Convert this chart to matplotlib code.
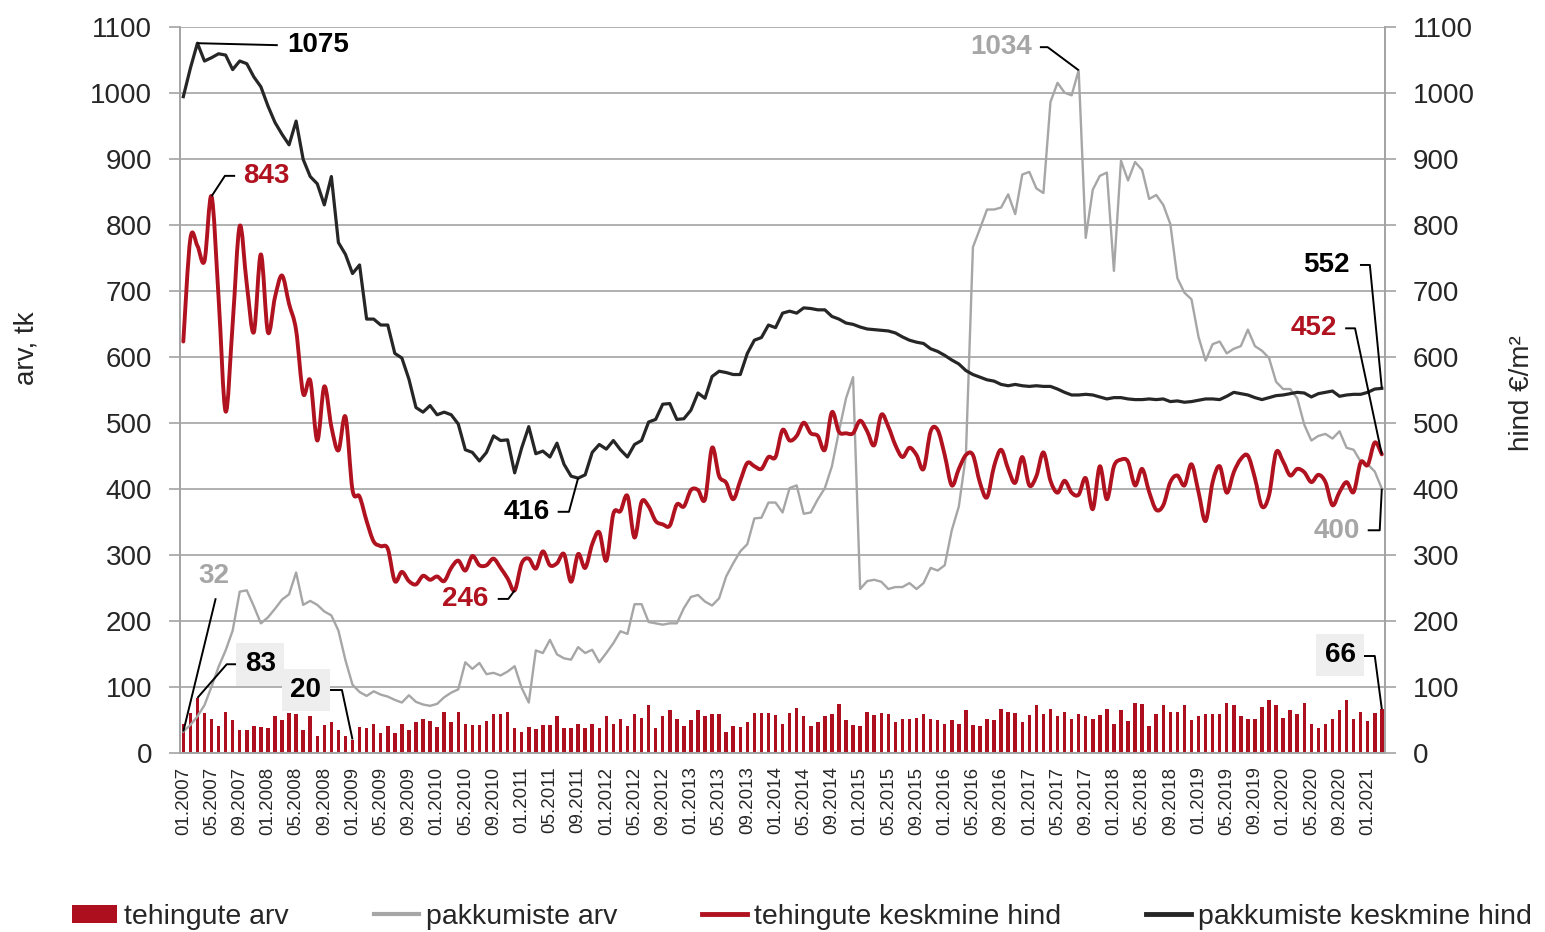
import matplotlib
matplotlib.use("Agg")
import matplotlib.pyplot as plt
from matplotlib.path import Path
from matplotlib.patches import PathPatch, Patch
from matplotlib.lines import Line2D
from matplotlib import font_manager
import numpy as np

# ---------------- data (monthly, 01.2007 ... 03.2021) ----------------
deals_count = [
    44, 60, 83, 60, 51, 40, 61, 50, 34, 35, 40, 39, 37, 55, 50, 60, 59, 35, 56, 26,
    42, 46, 34, 26, 20, 39, 37, 43, 30, 40, 30, 43, 35, 46,
    51, 48, 39, 62, 46, 62, 44, 42, 42, 48, 59, 59, 62, 37, 31, 39, 36, 42, 42, 55,
    37, 37, 44, 37, 44, 37, 55, 43, 51, 41, 59, 53, 73, 37,
    55, 64, 51, 41, 50, 64, 55, 59, 59, 32, 41, 39, 46, 60, 60, 60, 57, 44, 60, 67,
    56, 41, 46, 55, 59, 74, 50, 42, 41, 61, 57, 60, 59, 46,
    51, 51, 53, 59, 51, 50, 44, 49, 43, 64, 42, 41, 51, 49, 66, 61, 60, 46, 57, 73,
    59, 66, 55, 61, 51, 59, 55, 51, 57, 66, 43, 64, 48, 75,
    74, 41, 59, 73, 62, 62, 73, 50, 55, 59, 59, 59, 75, 73, 55, 51, 51, 69, 80, 73,
    53, 64, 59, 75, 44, 37, 44, 51, 64, 80, 51, 62, 48, 60, 66,
]

offers_count = [
    32, 42, 55, 72, 100, 130, 155, 185, 244, 246, 222, 196, 205, 218, 232, 240, 273, 224, 230, 224,
    214, 208, 185, 140, 103, 92, 86, 93, 88, 85, 80, 76, 87, 77,
    73, 71, 74, 84, 91, 96, 137, 127, 136, 119, 121, 117, 123, 131, 98, 76, 155, 151, 171, 149,
    143, 141, 160, 151, 156, 137, 151, 166, 184, 180, 225, 225, 198, 196,
    194, 196, 196, 219, 236, 239, 229, 223, 234, 267, 287, 305, 316, 355, 356, 379, 379, 364, 401, 405,
    362, 364, 384, 401, 434, 487, 537, 569, 248, 260, 262, 259, 248, 251,
    251, 257, 248, 257, 280, 276, 284, 337, 373, 450, 766, 794, 823, 823, 826, 846, 816, 876, 880, 855,
    848, 986, 1015, 1000, 996, 1034, 780, 853, 874, 879, 730, 897, 867, 895,
    883, 839, 845, 830, 801, 719, 697, 687, 630, 594, 619, 623, 605, 612, 616, 641, 616, 609, 598, 562,
    551, 551, 537, 497, 473, 480, 483, 476, 487, 462, 459, 441, 437, 426, 400,
]

deal_price = [
    623, 779, 768, 745, 843, 690, 517, 650, 798, 710, 637, 755, 637, 690, 723, 680, 640, 544, 564, 473,
    555, 494, 458, 509, 398, 388, 351, 320, 313, 309, 260, 274, 260, 255, 268,
    262, 267, 260, 280, 291, 276, 298, 284, 284, 294, 280, 264, 246, 287, 294, 279, 305, 284, 287, 301,
    259, 301, 280, 316, 334, 291, 362, 366, 389, 326, 380, 373, 351,
    346, 344, 376, 373, 398, 398, 384, 462, 419, 409, 384, 412, 439, 434, 430, 448, 448, 489, 473, 480,
    500, 484, 480, 459, 516, 486, 484, 484, 503, 487, 466, 512, 494, 466,
    448, 462, 451, 430, 487, 489, 451, 405, 430, 451, 451, 409, 387, 434, 459, 430, 409, 448, 405, 419,
    455, 412, 394, 412, 394, 391, 416, 369, 434, 384, 434, 444, 441, 405,
    430, 395, 368, 375, 410, 420, 405, 437, 395, 351, 410, 434, 394, 425, 445, 450, 416, 373, 390, 455,
    441, 420, 430, 425, 410, 421, 410, 375, 395, 410, 395, 440, 436, 470, 452,
]

offer_price = [
    994, 1037, 1075, 1048, 1053, 1059, 1057, 1035, 1048, 1044, 1024, 1009, 980, 955, 937, 921, 957, 899, 873, 862,
    830, 873, 773, 755, 726, 739, 657, 657, 648, 648, 605, 598, 566, 523, 516,
    526, 512, 516, 512, 498, 459, 455, 442, 455, 480, 473, 474, 424, 462, 494, 453, 457, 448, 469, 437,
    419, 416, 421, 455, 467, 460, 473, 459, 448, 467, 473, 501, 505,
    528, 529, 505, 506, 519, 545, 537, 570, 578, 576, 573, 573, 605, 625, 629, 648, 644, 666, 669, 666,
    674, 673, 671, 671, 661, 657, 651, 649, 645, 642, 641, 640, 639, 636,
    630, 625, 622, 620, 612, 608, 602, 595, 589, 579, 573, 569, 565, 563, 558, 556, 558, 556, 555, 556,
    555, 555, 551, 546, 542, 542, 543, 542, 539, 536, 538, 538, 536, 535,
    535, 536, 535, 536, 532, 533, 531, 532, 534, 536, 536, 535, 540, 546, 544, 542, 538, 535, 538, 541,
    542, 544, 546, 545, 539, 544, 546, 548, 540, 542, 543, 543, 546, 551, 552,
]

tick_labels = [
    "01.2007", "05.2007", "09.2007", "01.2008", "05.2008", "09.2008", "01.2009", "05.2009", "09.2009",
    "01.2010", "05.2010", "09.2010", "01.2011", "05.2011", "09.2011", "01.2012", "05.2012", "09.2012",
    "01.2013", "05.2013", "09.2013", "01.2014", "05.2014", "09.2014", "01.2015", "05.2015", "09.2015",
    "01.2016", "05.2016", "09.2016", "01.2017", "05.2017", "09.2017", "01.2018", "05.2018", "09.2018",
    "01.2019", "05.2019", "09.2019", "01.2020", "05.2020", "09.2020", "01.2021",
]

legend_labels = ["tehingute arv", "pakkumiste arv", "tehingute keskmine hind", "pakkumiste keskmine hind"]

# ---------------- styling ----------------
RED = "#B0121F"
BAR_RED = "#AE0F1E"
GRAY = "#A6A6A6"
BLACK = "#262626"
GRID = "#A3A3A3"
TXT = "#262626"

available = {f.name for f in font_manager.fontManager.ttflist}
BASE = "Liberation Sans" if "Liberation Sans" in available else "DejaVu Sans"
NARROW = "Liberation Sans Narrow" if "Liberation Sans Narrow" in available else None
plt.rcParams["font.family"] = [BASE, "DejaVu Sans"]

n = len(deal_price)
idx = np.arange(n)

fig = plt.figure(figsize=(15.45, 9.32), dpi=100)
ax = fig.add_axes([180 / 1545, 1 - 752.7 / 932, 1205 / 1545, 726 / 932])
ax2 = ax.twinx()

for a in (ax, ax2):
    a.set_ylim(0, 1100)
    a.set_xlim(-0.47, n - 1 + 0.45)
    a.set_yticks(np.arange(0, 1101, 100))
    for s in a.spines.values():
        s.set_color(GRID)
        s.set_linewidth(1.2)
    a.spines["top"].set_visible(False)
    a.tick_params(axis="y", length=8, width=1.2, color=GRID, labelsize=20,
                  labelcolor=TXT, pad=12)

ax.grid(axis="y", color=GRID, linewidth=1.2, zorder=0)
ax.set_axisbelow(True)

# x ticks
ax.set_xticks(idx[::4])
ax.set_xticklabels(tick_labels, rotation=90, fontsize=13.5, color=TXT)
ax.tick_params(axis="x", length=0, pad=10)
ax2.tick_params(axis="x", length=0)

# bars & offer count
bars = ax.bar(idx, deals_count, width=0.5, color=BAR_RED, zorder=2)
gline, = ax.plot(idx, offers_count, color=GRAY, lw=1.7, zorder=3)


# smoothed deal price line (cubic Bezier through every data point)
def smooth_path(xs, ys):
    verts = [(xs[0], ys[0])]
    codes = [Path.MOVETO]
    m = len(xs)
    for i in range(m - 1):
        x0, y0 = xs[max(i - 1, 0)], ys[max(i - 1, 0)]
        x1, y1 = xs[i], ys[i]
        x2, y2 = xs[i + 1], ys[i + 1]
        x3, y3 = xs[min(i + 2, m - 1)], ys[min(i + 2, m - 1)]
        verts += [(x1 + (x2 - x0) / 6, y1 + (y2 - y0) / 6),
                  (x2 - (x3 - x1) / 6, y2 - (y3 - y1) / 6),
                  (x2, y2)]
        codes += [Path.CURVE4] * 3
    return Path(verts, codes)


ax2.add_patch(PathPatch(smooth_path(idx, deal_price), facecolor="none",
                        edgecolor=RED, lw=2.8, zorder=3, capstyle="round",
                        joinstyle="round"))
bline, = ax2.plot(idx, offer_price, color=BLACK, lw=2.3, zorder=4)

# axis labels
ax.set_ylabel("arv, tk", fontsize=20, color=TXT, va="center")
ax.yaxis.set_label_coords(-0.127, 0.557)
ax2.set_ylabel("hind €/m²", fontsize=20, color=TXT, va="center")
ax2.yaxis.set_label_coords(1.114, 0.495)

# ---------------- annotations ----------------
AF = 20


def leader(pts, target):
    xs = [p[0] for p in pts] + [target[0]]
    ys = [p[1] for p in pts] + [target[1]]
    ax2.plot(xs, ys, color="black", lw=1.4, zorder=6, clip_on=False,
             solid_capstyle="butt")


last = n - 1
# 1075 peak of offer price
pk = int(np.argmax(offer_price))
ax2.text(14.7, 1072, "1075", color="black", fontsize=AF, fontweight="bold", ha="left", va="center", zorder=7)
leader([(13.4, 1072)], (pk, offer_price[pk]))
# 843 peak of deal price
pr = int(np.argmax(deal_price))
ax2.text(8.5, 874, "843", color=RED, fontsize=AF, fontweight="bold", ha="left", va="center", zorder=7)
leader([(7.35, 874), (5.9, 874)], (pr, deal_price[pr]))
# 1034 peak of offer count
po = int(np.argmax(offers_count))
ax2.text(120.4, 1069, "1034", color=GRAY, fontsize=AF, fontweight="bold", ha="right", va="center", zorder=7)
leader([(121.5, 1069), (122.6, 1069)], (po, offers_count[po]))
# 416 minimum of offer price (2011)
mo = 56
ax2.text(52.0, 365, "416", color="black", fontsize=AF, fontweight="bold", ha="right", va="center", zorder=7)
leader([(53.1, 365), (54.7, 365)], (mo, offer_price[mo]))
# 246 minimum of deal price (2010)
md = 47
ax2.text(43.2, 233, "246", color=RED, fontsize=AF, fontweight="bold", ha="right", va="center", zorder=7)
leader([(44.6, 233), (46.1, 233)], (md, deal_price[md]))
# last values
ax2.text(165.5, 739, "552", color="black", fontsize=AF, fontweight="bold", ha="right", va="center", zorder=7)
leader([(166.9, 739), (168.3, 739)], (last, offer_price[last]))
ax2.text(163.7, 643, "452", color=RED, fontsize=AF, fontweight="bold", ha="right", va="center", zorder=7)
leader([(164.8, 643), (166.2, 643)], (last, deal_price[last]))
ax2.text(166.9, 336, "400", color=GRAY, fontsize=AF, fontweight="bold", ha="right", va="center", zorder=7)
leader([(168.0, 337), (169.7, 337)], (last, offers_count[last]))
# first offer count
ax2.text(4.35, 268, "32", color=GRAY, fontsize=AF, fontweight="bold", ha="center", va="center", zorder=7)
leader([(4.6, 234)], (0, offers_count[0]))
# boxed deal counts
box = dict(boxstyle="square,pad=0.3", fc="#EEEEEE", ec="none")
mb = int(np.argmax(deals_count[:12]))
ax2.text(10.9, 134, "83", color="black", fontsize=AF, fontweight="bold", ha="center", va="center", bbox=box, zorder=7)
leader([(7.76, 134), (6.16, 134)], (mb, deals_count[mb]))
mn = int(np.argmin(deals_count))
ax2.text(17.4, 95, "20", color="black", fontsize=AF, fontweight="bold", ha="center", va="center", bbox=box, zorder=7)
leader([(20.7, 95), (22.5, 95)], (mn, deals_count[mn]))
ax2.text(164.1, 148, "66", color="black", fontsize=AF, fontweight="bold", ha="center", va="center", bbox=box, zorder=7)
leader([(167.3, 146.5), (169.0, 146.5)], (last, deals_count[last]))

# ---------------- legend ----------------
handles = [Patch(facecolor=BAR_RED, edgecolor="none"),
           Line2D([], [], color=GRAY, lw=3),
           Line2D([], [], color=RED, lw=3.5),
           Line2D([], [], color=BLACK, lw=3.5)]
if NARROW:
    lprops = {"family": [NARROW, BASE], "size": 25}
    hl, cs = 1.3, 2.45
else:
    lprops = {"family": [BASE], "size": 20.5}
    hl, cs = 1.58, 2.98
fig.legend(handles, legend_labels, loc="center left", bbox_to_anchor=(72 / 1545, 1 - 917 / 932),
           ncol=4, frameon=False, prop=lprops, handlelength=hl, handleheight=0.62,
           handletextpad=0.25, columnspacing=cs, borderpad=0, borderaxespad=0, labelcolor=TXT)

fig.savefig("out.png", dpi=100)
